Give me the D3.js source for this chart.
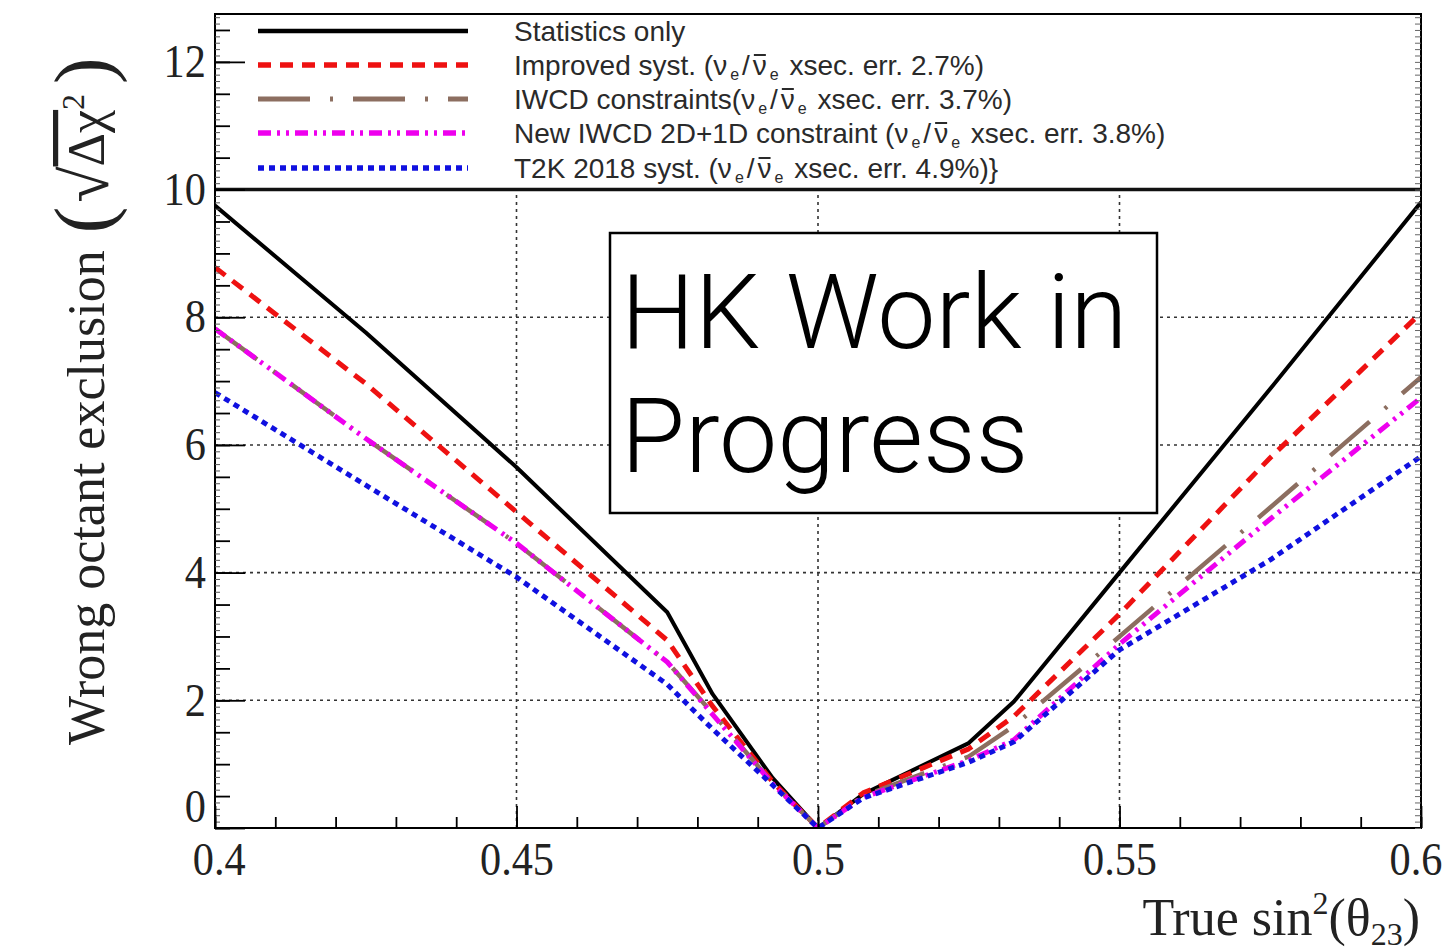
<!DOCTYPE html>
<html>
<head>
<meta charset="utf-8">
<script src="https://cdn.jsdelivr.net/npm/d3@7"></script>
<style>
  body { margin: 0; background: #fff; }
  svg { display: block; }
</style>
</head>
<body>
<svg id="chart" width="1445" height="951"></svg>
<script>
// True sin^2(theta_23) grid points
const sinSq = [0.4, 0.425, 0.45, 0.475, 0.4825, 0.4925, 0.5, 0.5075, 0.525, 0.5325, 0.55, 0.575, 0.6];

// Wrong octant exclusion sqrt(delta chi^2) per configuration
const statOnly = [9.75, 7.76, 5.65, 3.38, 2.1, 0.78, 0, 0.53, 1.33, 1.98, 4.0, 6.88, 9.8];
const improvedSyst = [8.78, 6.96, 4.95, 2.94, 1.91, 0.72, 0, 0.55, 1.24, 1.75, 3.35, 5.8, 8.07];
const iwcdConstraints = [7.82, 6.1, 4.46, 2.6, 1.8, 0.7, 0, 0.5, 1.12, 1.6, 3.0, 5.02, 7.06];
const newIwcd = [7.82, 6.1, 4.46, 2.6, 1.78, 0.69, 0, 0.48, 1.06, 1.38, 2.88, 4.84, 6.74];
const t2k2018 = [6.82, 5.37, 3.93, 2.25, 1.55, 0.67, 0, 0.47, 1.03, 1.35, 2.79, 4.2, 5.82];

const xTicks = [0.4, 0.45, 0.5, 0.55, 0.6];
const yTicks = [0, 2, 4, 6, 8, 10, 12];
const xGrid = [0.45, 0.5, 0.55];
const yGrid = [2, 4, 6, 8];

// Legend entries: "sub" pieces are subscripts, "bar" pieces get a bar on top
const legendLabels = [
  [{t: "Statistics only"}],
  [{t: "Improved syst. (\u03bd"}, {t: "e", sub: true}, {t: "/"}, {t: "\u03bd", bar: true}, {t: "e", sub: true}, {t: " xsec. err. 2.7%)"}],
  [{t: "IWCD constraints(\u03bd"}, {t: "e", sub: true}, {t: "/"}, {t: "\u03bd", bar: true}, {t: "e", sub: true}, {t: " xsec. err. 3.7%)"}],
  [{t: "New IWCD 2D+1D constraint (\u03bd"}, {t: "e", sub: true}, {t: "/"}, {t: "\u03bd", bar: true}, {t: "e", sub: true}, {t: " xsec. err. 3.8%)"}],
  [{t: "T2K 2018 syst. (\u03bd"}, {t: "e", sub: true}, {t: "/"}, {t: "\u03bd", bar: true}, {t: "e", sub: true}, {t: " xsec. err. 4.9%)}"}]
];

const series = [
  {values: statOnly,        color: "#000000", width: 4,   dash: null},
  {values: improvedSyst,    color: "#ee1111", width: 5,   dash: "13,9"},
  {values: iwcdConstraints, color: "#8c6e60", width: 4.5, dash: "52,20,3,20"},
  {values: newIwcd,         color: "#ee00ee", width: 5,   dash: "13,6,3,6,3,6"},
  {values: t2k2018,         color: "#1010e0", width: 5,   dash: "6,5"}
];

const svg = d3.select("#chart");
const X0 = 215, X1 = 1421, Y0 = 828, Y1 = 14;
const x = d3.scaleLinear().domain([0.4, 0.6]).range([X0, X1]);
const y = d3.scaleLinear().domain([0, 12.75]).range([Y0, Y1]);

svg.append("defs").append("clipPath").attr("id", "plotClip")
  .append("rect").attr("x", X0).attr("y", Y1).attr("width", X1 - X0).attr("height", Y0 - Y1);

// dotted grid
const grid = svg.append("g").attr("stroke", "#333").attr("stroke-width", 1.6).attr("stroke-dasharray", "3,4");
grid.selectAll("line.gx").data(xGrid).join("line")
  .attr("x1", d => x(d)).attr("x2", d => x(d)).attr("y1", y(0)).attr("y2", y(10));
grid.selectAll("line.gy").data(yGrid).join("line")
  .attr("x1", X0).attr("x2", X1).attr("y1", d => y(d)).attr("y2", d => y(d));

// curves
const line = d3.line().x(d => x(d[0])).y(d => y(d[1]));
const curves = svg.append("g").attr("clip-path", "url(#plotClip)");
series.forEach(s => {
  curves.append("path")
    .attr("d", line(sinSq.map((v, i) => [v, s.values[i]])))
    .attr("fill", "none")
    .attr("stroke", s.color)
    .attr("stroke-width", s.width)
    .attr("stroke-dasharray", s.dash)
    .attr("stroke-linejoin", "round");
});

// "HK Work in Progress" label box
const boxG = svg.append("g");
boxG.append("rect").attr("x", 610).attr("y", 233).attr("width", 547).attr("height", 280)
  .attr("fill", "#fff").attr("stroke", "#000").attr("stroke-width", 2.5);
const hkFont = "Roboto, 'Liberation Sans', sans-serif";
[["HK Work in", 348], ["Progress", 472]].forEach(([txt, by]) => {
  boxG.append("text").attr("x", 621).attr("y", by).attr("font-family", hkFont)
    .attr("font-weight", 300).attr("font-size", 104).attr("fill", "#000").text(txt);
});

// legend
const leg = svg.append("g");
leg.append("rect").attr("x", X0).attr("y", Y1).attr("width", X1 - X0).attr("height", y(10) - Y1)
  .attr("fill", "#fff").attr("stroke", "#000").attr("stroke-width", 1.5);
leg.append("line").attr("x1", X0).attr("x2", X1).attr("y1", y(10)).attr("y2", y(10))
  .attr("stroke", "#111").attr("stroke-width", 3.5);
const rowY = [31, 65, 99, 133, 168];
series.forEach((s, i) => {
  leg.append("line").attr("x1", 258).attr("x2", 468).attr("y1", rowY[i]).attr("y2", rowY[i])
    .attr("stroke", s.color).attr("stroke-width", s.width + 0.5).attr("stroke-dasharray", s.dash);
  const base = rowY[i] + 10;
  const t = leg.append("text").attr("x", 514).attr("y", base)
    .attr("font-family", "'Liberation Sans', Arial, sans-serif").attr("font-size", 28).attr("fill", "#2a2a2a");
  let shifted = false, charPos = 0;
  const barChars = [];
  legendLabels[i].forEach(p => {
    const ts = t.append("tspan").text(p.t);
    if (p.sub) { ts.attr("font-size", 16).attr("dy", 5).attr("dx", 3); shifted = true; }
    else {
      if (shifted) { ts.attr("dy", -5).attr("dx", 3); shifted = false; }
      if (p.bar) { ts.attr("dx", 3); barChars.push(charPos); }
    }
    charPos += p.t.length;
  });
  // bar over the antineutrino symbol
  barChars.forEach(ci => {
    const ext = t.node().getExtentOfChar(ci);
    leg.append("line").attr("x1", ext.x + 1).attr("x2", ext.x + ext.width - 1)
      .attr("y1", base - 20).attr("y2", base - 20)
      .attr("stroke", "#2a2a2a").attr("stroke-width", 2);
  });
});

// axes
const serif = "'Liberation Serif', 'Times New Roman', serif";
const axG = svg.append("g");
axG.append("rect").attr("x", X0).attr("y", Y1).attr("width", X1 - X0).attr("height", Y0 - Y1)
  .attr("fill", "none").attr("stroke", "#000").attr("stroke-width", 2);

function styleAxis(g) {
  g.select(".domain").remove();
  g.selectAll(".tick line").attr("stroke", "#000").attr("stroke-width", 1.8);
}

// left axis: fine, minor and major ticks
axG.append("g").attr("transform", `translate(${X0},0)`)
  .call(d3.axisLeft(y).tickValues(d3.range(0, 12.75, 0.1)).tickSize(-5).tickFormat(""))
  .call(styleAxis).selectAll(".tick line").attr("stroke-width", 1).attr("stroke", "#555");
axG.append("g").attr("transform", `translate(${X0},0)`)
  .call(d3.axisLeft(y).tickValues(d3.range(0, 12.75, 0.5)).tickSize(-15).tickFormat(""))
  .call(styleAxis);
const yAx = axG.append("g").attr("transform", `translate(${X0},0)`)
  .call(d3.axisLeft(y).tickValues(yTicks).tickSize(-30).tickPadding(10).tickFormat(d3.format("d")))
  .call(styleAxis);
yAx.selectAll("text").attr("font-family", serif).attr("font-size", 46).attr("fill", "#222")
  .attr("transform", "scale(0.92,1)");
yAx.selectAll(".tick").filter(d => d === 0).select("text").attr("dy", "-0.15em");

// right axis fine ticks
axG.append("g").attr("transform", `translate(${X1},0)`)
  .call(d3.axisRight(y).tickValues(d3.range(0, 12.75, 0.1)).tickSize(-6).tickFormat(""))
  .call(styleAxis).selectAll(".tick line").attr("stroke-width", 1).attr("stroke", "#666");

// bottom axis
axG.append("g").attr("transform", `translate(0,${Y0})`)
  .call(d3.axisBottom(x).tickValues(d3.range(0.4, 0.6001, 0.01)).tickSize(-11).tickFormat(""))
  .call(styleAxis);
const xAx = axG.append("g").attr("transform", `translate(0,${Y0})`)
  .call(d3.axisBottom(x).tickValues(xTicks).tickSize(-22).tickPadding(14).tickFormat(d => String(d)))
  .call(styleAxis);
xAx.selectAll("text").attr("font-family", serif).attr("font-size", 46).attr("fill", "#222")
  .attr("transform", "scale(0.92,1)");
xAx.selectAll(".tick").filter(d => d === 0.6).select("text").attr("x", -6);
xAx.selectAll(".tick").filter(d => d === 0.4).select("text").attr("x", 4);

// x-axis title
const xt = svg.append("text").attr("x", 1420).attr("y", 935).attr("text-anchor", "end")
  .attr("font-family", serif).attr("font-size", 52).attr("fill", "#222");
xt.append("tspan").text("True sin");
xt.append("tspan").text("2").attr("font-size", 32).attr("dy", -21);
xt.append("tspan").text("(\u03b8").attr("dy", 21);
xt.append("tspan").text("23").attr("font-size", 32).attr("dy", 10);
xt.append("tspan").text(")").attr("dy", -10);

// y-axis title
const yt = svg.append("text").attr("transform", "translate(104,745) rotate(-90)")
  .attr("font-family", serif).attr("font-size", 52).attr("fill", "#222");
yt.append("tspan").text("Wrong octant exclusion ");
yt.append("tspan").text("(").attr("font-size", 80).attr("dy", 6).attr("dx", 4);
yt.append("tspan").text("\u221a").attr("font-size", 66).attr("dy", -2).attr("dx", 4);
yt.append("tspan").text("\u0394\u03c7").attr("text-decoration", "overline").attr("dy", -4);
yt.append("tspan").text("2").attr("font-size", 32).attr("dy", -20);
yt.append("tspan").text(")").attr("font-size", 80).attr("dy", 26).attr("dx", 10);
</script>
</body>
</html>
